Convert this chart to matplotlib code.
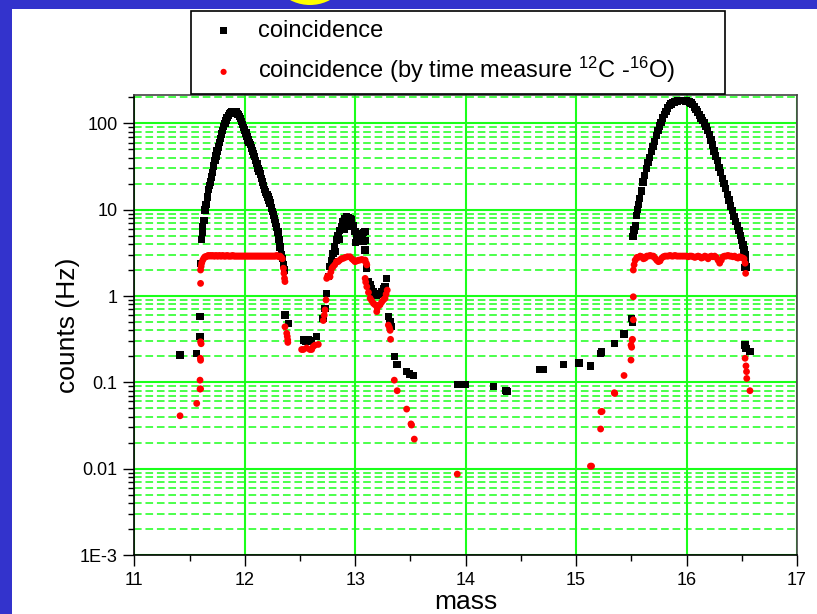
import matplotlib
matplotlib.use("Agg")
import matplotlib.pyplot as plt
import matplotlib.patches as patches
from matplotlib.ticker import FixedLocator, NullFormatter

plt.rcParams["font.family"] = ["Liberation Sans", "DejaVu Sans"]
plt.rcParams["mathtext.fontset"] = "custom"
plt.rcParams["mathtext.rm"] = "Liberation Sans"
plt.rcParams["mathtext.it"] = "Liberation Sans"

# ---------- data ----------
# black squares: coincidence
peak1_mass = [11.61, 11.615, 11.62, 11.63, 11.64, 11.65, 11.66, 11.67, 11.68, 11.69,
              11.70, 11.71, 11.72, 11.73, 11.74, 11.75, 11.76, 11.77, 11.78, 11.79,
              11.80, 11.81, 11.82, 11.83, 11.84, 11.85, 11.86, 11.87, 11.88, 11.89,
              11.90, 11.91, 11.92, 11.93, 11.94, 11.95, 11.96, 11.97, 11.98, 11.99,
              12.00, 12.01, 12.02, 12.03, 12.04, 12.05, 12.06, 12.07, 12.08, 12.09,
              12.10, 12.11, 12.12, 12.13, 12.14, 12.15, 12.16, 12.17, 12.18, 12.19,
              12.20, 12.21, 12.22, 12.23, 12.24, 12.25, 12.26, 12.27, 12.28, 12.29,
              12.30, 12.31, 12.32, 12.33, 12.34, 12.35, 12.36]
peak1_counts = [4.5, 5.5, 6.3, 7.5, 9.9, 11.5, 14, 17, 19, 21,
                24, 27, 32, 37, 42, 48, 53, 60, 67, 75,
                83, 92, 100, 108, 116, 123, 129, 133, 136, 137,
                137, 137, 135, 131, 126, 121, 113, 105, 97, 90,
                84, 77, 70, 64, 60, 57, 52, 48, 44, 41,
                37, 34, 30, 28, 26, 23, 21, 19, 17, 16,
                15, 14, 13, 12, 10.5, 9.5, 8.7, 7.8, 7.0, 6.3,
                5.5, 4.5, 3.7, 3.0, 2.7, 2.3, 2.0]

peak2_mass = [12.71, 12.727, 12.742, 12.757, 12.772, 12.785, 12.80, 12.80, 12.815, 12.82,
              12.83, 12.845, 12.86, 12.86, 12.878, 12.89, 12.90, 12.905, 12.923, 12.94,
              12.95, 12.955, 12.968, 12.98, 12.998, 13.00, 13.01, 13.03, 13.045, 13.06,
              13.07, 13.075, 13.09, 13.095, 13.09, 13.105, 13.12, 13.135, 13.15, 13.165,
              13.18, 13.195, 13.21, 13.225, 13.24, 13.255, 13.27, 13.285, 13.30, 13.315,
              13.33, 13.354, 13.38]
peak2_counts = [0.55, 0.72, 1.07, 1.67, 2.19, 2.6, 3.1, 2.5, 3.7, 3.3,
                4.46, 5.0, 5.7, 4.5, 6.35, 7.2, 6.0, 7.8, 8.3, 8.0,
                6.5, 7.9, 7.6, 6.6, 5.56, 4.2, 5.0, 4.46, 4.9, 5.3,
                4.3, 5.4, 5.56, 4.4, 3.4, 2.1, 1.47, 1.35, 1.23, 1.12,
                1.05, 1.03, 1.05, 1.07, 1.12, 1.2, 1.28, 1.6, 0.575, 0.5,
                0.44, 0.198, 0.16]

peak3_mass = [15.515, 15.525, 15.535, 15.545, 15.555, 15.565, 15.575, 15.59, 15.605, 15.62,
              15.635, 15.65, 15.665, 15.68, 15.695, 15.71, 15.725, 15.74, 15.755, 15.77,
              15.785, 15.80, 15.815, 15.83, 15.845, 15.86, 15.875, 15.89, 15.905, 15.92,
              15.935, 15.95, 15.965, 15.98, 15.995, 16.01, 16.025, 16.04, 16.055, 16.07,
              16.085, 16.10, 16.115, 16.13, 16.145, 16.16, 16.175, 16.19, 16.205, 16.22,
              16.235, 16.25, 16.265, 16.28, 16.295, 16.31, 16.325, 16.34, 16.355, 16.37,
              16.385, 16.40, 16.415, 16.43, 16.445, 16.46, 16.475, 16.49, 16.50, 16.51,
              16.52, 16.53, 16.535, 16.54, 16.545]
peak3_counts = [4.9, 5.8, 6.5, 8.5, 10, 11.5, 13.5, 16.5, 21, 25,
                30, 35, 40, 47, 54, 62, 72, 83, 93, 103,
                115, 127, 138, 150, 160, 167, 173, 177, 180, 182,
                183, 184, 184, 183, 182, 180, 177, 172, 165, 155,
                145, 135, 125, 115, 107, 101, 92, 83, 74, 64,
                56, 48, 42, 37, 31, 27, 23, 20, 17.5, 15,
                13, 11, 9.7, 8.4, 7.3, 6.5, 5.7, 5.0, 4.4, 3.9,
                3.4, 3.0, 2.6, 2.2, 2.15]

low_black_mass = [11.414, 11.565, 11.595, 11.595, 11.60, 12.364, 12.394, 12.53, 12.55, 12.576,
                  12.60, 12.65, 13.466, 13.49, 13.526, 13.924, 13.994, 14.25, 14.365, 14.375,
                  14.673, 14.703, 14.884, 15.026, 15.13, 15.222, 15.23, 15.346, 15.427, 15.434,
                  15.503, 15.508, 16.53, 16.538, 16.53, 16.574]
low_black_counts = [0.207, 0.217, 0.34, 0.575, 2.4, 0.60, 0.48, 0.31, 0.30, 0.31,
                    0.30, 0.34, 0.133, 0.125, 0.121, 0.094, 0.094, 0.0897, 0.081, 0.079,
                    0.1415, 0.1415, 0.162, 0.168, 0.155, 0.217, 0.225, 0.283, 0.37, 0.363,
                    0.55, 0.50, 0.27, 0.248, 2.15, 0.227]

# red dots: coincidence by time measure
red1_mass = [11.60, 11.60, 11.605, 11.61, 11.62, 11.63, 11.64,
             11.65, 11.66, 11.67, 11.68, 11.69, 11.70, 11.71, 11.72, 11.73, 11.74,
             11.75, 11.76, 11.77, 11.78, 11.79, 11.80, 11.81, 11.82, 11.83, 11.84,
             11.85, 11.86, 11.87, 11.88, 11.89, 11.90, 11.91, 11.92, 11.93, 11.94,
             11.95, 11.96, 11.97, 11.98, 11.99, 12.00, 12.01, 12.02, 12.03, 12.04,
             12.05, 12.06, 12.07, 12.08, 12.09, 12.10, 12.11, 12.12, 12.13, 12.14,
             12.15, 12.16, 12.17, 12.18, 12.19, 12.20, 12.21, 12.22, 12.23, 12.24,
             12.25, 12.26, 12.27, 12.28, 12.29, 12.30, 12.31, 12.32, 12.33,
             12.34, 12.35, 12.355, 12.36, 12.364]
red1_counts = [1.4, 2.0, 2.2, 2.4, 2.6, 2.75, 2.85,
               2.85, 2.9, 2.95, 2.9, 2.95, 2.9, 2.95, 2.9, 2.9, 2.95,
               2.9, 2.9, 2.95, 2.9, 2.9, 2.95, 2.9, 2.9, 2.9, 2.95,
               2.9, 2.9, 2.9, 2.9, 2.95, 2.9, 2.9, 2.9, 2.9, 2.9,
               2.9, 2.9, 2.9, 2.9, 2.9, 2.9, 2.9, 2.9, 2.9, 2.9,
               2.9, 2.9, 2.9, 2.9, 2.9, 2.9, 2.9, 2.9, 2.9, 2.9,
               2.9, 2.9, 2.9, 2.9, 2.9, 2.9, 2.9, 2.9, 2.9, 2.9,
               2.9, 2.9, 2.9, 2.9, 2.95, 2.9, 2.85, 2.9, 2.8,
               2.7, 2.1, 1.83, 1.6, 1.47]

red2_mass = [12.711, 12.72, 12.727, 12.736, 12.742, 12.75, 12.772, 12.78, 12.79, 12.80,
             12.815, 12.83, 12.845, 12.86, 12.875, 12.892, 12.91, 12.93, 12.953, 12.97,
             12.985, 12.998, 13.015, 13.03, 13.044, 13.06, 13.075, 13.09, 13.10, 13.105,
             13.09, 13.095, 13.105, 13.12, 13.135, 13.15, 13.165, 13.18, 13.195, 13.20,
             13.21, 13.225, 13.24, 13.255, 13.27, 13.28, 13.29]
red2_counts = [0.52, 0.6, 0.69, 0.9, 1.6, 1.7, 1.67, 1.9, 2.1, 2.19,
               2.3, 2.5, 2.5, 2.6, 2.7, 2.73, 2.8, 2.85, 2.85, 2.7,
               2.6, 2.5, 2.55, 2.6, 2.61, 2.65, 2.6, 2.61, 2.4, 2.29,
               1.6, 1.45, 1.28, 1.1, 0.94, 0.88, 0.82, 0.79, 0.66, 0.72,
               0.78, 0.79, 0.85, 0.9, 0.94, 1.05, 1.17]

red3_mass = [15.518, 15.525, 15.535, 15.55,
             15.565, 15.58, 15.595, 15.61, 15.625, 15.64, 15.655, 15.67, 15.685, 15.70,
             15.715, 15.73, 15.745, 15.76, 15.775, 15.79, 15.805, 15.82, 15.835, 15.85,
             15.865, 15.88, 15.895, 15.91, 15.925, 15.94, 15.955, 15.97, 15.985, 16.00,
             16.015, 16.03, 16.045, 16.06, 16.075, 16.09, 16.105, 16.12, 16.135, 16.15,
             16.165, 16.18, 16.195, 16.21, 16.225, 16.24, 16.255, 16.27, 16.285, 16.30,
             16.315, 16.33, 16.345, 16.36, 16.375, 16.39, 16.405, 16.42, 16.435, 16.45,
             16.465, 16.48, 16.495, 16.51, 16.52, 16.53, 16.535]
red3_counts = [2.0, 2.3, 2.6, 2.8,
               2.8, 2.9, 2.85, 2.7, 2.75, 2.9, 2.9, 2.95, 2.9, 2.9,
               2.75, 2.6, 2.5, 2.55, 2.75, 2.85, 2.9, 2.9, 2.9, 2.95,
               2.9, 2.9, 2.95, 2.9, 2.9, 2.9, 2.9, 2.9, 2.9, 2.9,
               2.85, 2.9, 2.9, 2.85, 2.8, 2.85, 2.9, 2.85, 2.75, 2.8,
               2.9, 2.85, 2.7, 2.85, 2.9, 2.85, 2.9, 2.8, 2.6, 2.4,
               2.6, 2.85, 2.9, 2.9, 2.95, 2.9, 2.9, 2.85, 2.9, 2.8,
               2.75, 2.85, 2.8, 2.75, 2.7, 2.4, 1.83]

low_red_mass = [11.414, 11.565, 11.595, 11.60, 11.595, 11.598, 11.60, 11.60, 11.605,
                12.364, 12.38, 12.385, 12.389, 12.39, 12.515, 12.53, 12.56, 12.59, 12.606,
                12.62, 12.636, 12.666, 13.30, 13.31, 13.316, 13.32, 13.354, 13.38, 13.466,
                13.505, 13.51, 13.535, 13.924, 15.13, 15.14, 15.222, 15.225, 15.235, 15.346,
                15.35, 15.434, 15.497, 15.497, 15.503, 15.508, 15.51, 15.518, 15.518,
                16.53, 16.538, 16.543, 16.545, 16.574]
low_red_counts = [0.041, 0.057, 0.0836, 0.084, 0.106, 0.19, 0.18, 0.295, 0.28,
                  0.44, 0.37, 0.34, 0.31, 0.29, 0.24, 0.24, 0.25, 0.24, 0.24,
                  0.26, 0.27, 0.275, 0.46, 0.43, 0.40, 0.315, 0.106, 0.08, 0.049,
                  0.033, 0.032, 0.022, 0.00865, 0.0107, 0.0107, 0.0288, 0.0457, 0.046, 0.0758,
                  0.0743, 0.12, 0.181, 0.27, 0.255, 0.31, 0.315, 0.53, 0.98,
                  0.19, 0.155, 0.133, 0.111, 0.08]

black_mass = peak1_mass + peak2_mass + peak3_mass + low_black_mass
black_counts = peak1_counts + peak2_counts + peak3_counts + low_black_counts
red_mass = red1_mass + red2_mass + red3_mass + low_red_mass
red_counts = red1_counts + red2_counts + red3_counts + low_red_counts

x_ticks = [11, 12, 13, 14, 15, 16, 17]
y_ticks = [1e-3, 1e-2, 1e-1, 1, 10, 100]
y_tick_labels = ["1E-3", "0.01", "0.1", "1", "10", "100"]

W, H = 817, 614
fig = plt.figure(figsize=(W / 100, H / 100), dpi=100)
fig.patch.set_facecolor("#3333cc")

# white slide area and the yellow blob at the top
fig.patches.append(patches.Rectangle((12 / W, 0), 1 - 12 / W, 1 - 9 / H,
                                     transform=fig.transFigure, facecolor="white",
                                     edgecolor="none", zorder=-10))
fig.patches.append(patches.Ellipse((310 / W, 1 + 37.5 / H), 85 / W, 85 / H,
                                   transform=fig.transFigure, facecolor="#ffff00",
                                   edgecolor="none", zorder=-10))

ax = fig.add_axes([134.3 / W, 59 / H, (797 - 134.3) / W, (555 - 95) / H])
ax.set_facecolor("white")
ax.set_yscale("log")
ax.set_xlim(11, 17)
ax.set_ylim(1e-3, 213)

ax.scatter(black_mass, black_counts, marker="s", s=28, color="black",
           edgecolors="none", zorder=3, label="coincidence")
ax.scatter(red_mass, red_counts, marker="o", s=24, color="#ff0000",
           edgecolors="none", zorder=4,
           label=r"coincidence (by time measure $^{12}$C -$^{16}$O)")

# grid
ax.set_axisbelow(True)
ax.grid(True, which="major", axis="both", color="#1aff1a", linewidth=1.5, linestyle="-")
ax.grid(True, which="minor", axis="y", color="#1aff1a", linewidth=1.1,
        linestyle=(0, (5, 2.5)))

ax.xaxis.set_major_locator(FixedLocator(x_ticks))
ax.xaxis.set_minor_locator(FixedLocator([11.5, 12.5, 13.5, 14.5, 15.5, 16.5]))
ax.set_yticks(y_ticks)
ax.set_yticklabels(y_tick_labels)
ax.yaxis.set_minor_formatter(NullFormatter())
ax.tick_params(axis="both", which="major", direction="out", length=8, width=1,
               labelsize=13, pad=4, color="black")
ax.tick_params(axis="both", which="minor", direction="out", length=4.5, width=1,
               color="black")

for side in ["left", "bottom"]:
    ax.spines[side].set_color("black")
    ax.spines[side].set_linewidth(1.2)
for side in ["top", "right"]:
    ax.spines[side].set_color("#444444")
    ax.spines[side].set_linewidth(1.2)

ax.set_xlabel("mass", fontsize=19, labelpad=1)
ax.set_ylabel("counts (Hz)", fontsize=19, labelpad=0)

leg = fig.legend(loc="upper left", bbox_to_anchor=(191 / W, 1 - 11 / H, (725 - 191) / W, 0),
                 bbox_transform=fig.transFigure, mode="expand", fontsize=17,
                 frameon=True, fancybox=False, edgecolor="black", framealpha=1,
                 handlelength=2.0, handletextpad=0.45, borderpad=0.38, labelspacing=0.55,
                 borderaxespad=0, scatterpoints=1, markerscale=0.9)
leg.get_frame().set_linewidth(1.2)

fig.savefig("out.png", dpi=100, facecolor=fig.get_facecolor())
